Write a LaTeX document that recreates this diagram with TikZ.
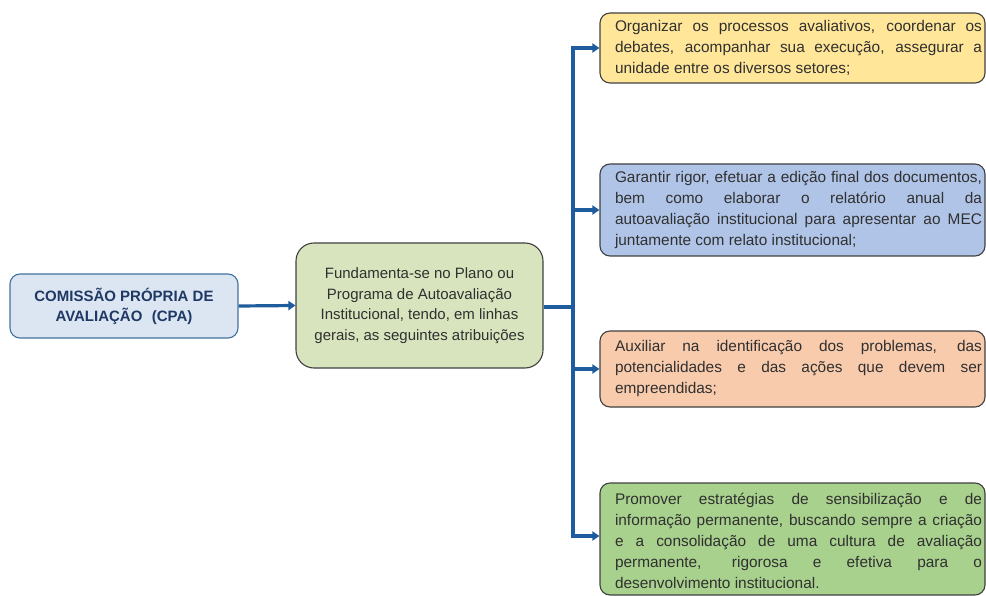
\documentclass[tikz,border=0pt]{standalone}
\usepackage{fontspec}
\setmainfont{Liberation Sans}
\usetikzlibrary{arrows.meta}
\definecolor{arrc}{HTML}{1F5C9E}
\definecolor{bord}{HTML}{404040}
\definecolor{txt}{HTML}{303030}
\definecolor{cpafill}{HTML}{DCE6F2}
\definecolor{cpadraw}{HTML}{41719C}
\definecolor{cpatext}{HTML}{1F3864}
\definecolor{midfill}{HTML}{D7E4BD}
\definecolor{yelfill}{HTML}{FFE699}
\definecolor{bluefill}{HTML}{B0C4E8}
\definecolor{orfill}{HTML}{F8CBAD}
\definecolor{grfill}{HTML}{A9D18E}
\hyphenpenalty=10000
\exhyphenpenalty=10000
\newcommand{\attrtext}[1]{\hskip12pt\parbox{367pt}{\fontsize{15.4}{21}\selectfont\tolerance=10000 #1}}
\tikzset{
  basebox/.style={draw=bord, line width=1.1pt, rounded corners=10pt, inner sep=0pt, text=txt,
    font=\fontsize{15}{21}\selectfont},
  attr/.style={basebox, minimum width=385pt},
  conn/.style={draw=arrc, line width=3.2pt},
  arr/.style={conn, -{Triangle[length=7pt,width=9pt]}}
}
\begin{document}
\begin{tikzpicture}[x=1pt,y=-1pt]
\useasboundingbox (0,0) rectangle (986,596);

\node[basebox, draw=cpadraw, fill=cpafill, text=cpatext, minimum width=228pt, minimum height=64pt,
  align=center, font=\fontsize{15}{20}\selectfont\bfseries] (cpa) at (124,306)
  {COMISSÃO PRÓPRIA DE\\AVALIAÇÃO\hspace{0.35em} (CPA)};

\node[basebox, fill=midfill, rounded corners=18pt, minimum width=247pt, minimum height=125pt,
  align=center, font=\fontsize{15}{20.5}\selectfont] (mid) at (419.5,305.5)
  {Fundamenta-se no Plano ou\\Programa de Autoavaliação\\Institucional, tendo, em linhas\\gerais, as seguintes atribuições};

\node[attr, fill=yelfill, minimum height=70pt] (a1) at (792.5,48)
  {\attrtext{Organizar os processos avaliativos, coordenar os\linebreak debates, acompanhar sua execução, assegurar a\linebreak unidade entre os diversos setores;}};

\node[attr, fill=bluefill, minimum height=92pt] (a2) at (792.5,210)
  {\attrtext{Garantir rigor, efetuar a edição final dos documentos,\linebreak bem como elaborar o relatório anual da\linebreak autoavaliação institucional para apresentar ao MEC\linebreak juntamente com relato institucional;}};

\node[attr, fill=orfill, minimum height=76pt] (a3) at (792.5,369)
  {\attrtext{Auxiliar na identificação dos problemas, das\linebreak potencialidades e das ações que devem ser\linebreak empreendidas;}};

\node[attr, fill=grfill, minimum height=112pt] (a4) at (792.5,539)
  {\attrtext{\vspace*{3pt}Promover estratégias de sensibilização e de\linebreak informação permanente, buscando sempre a criação\linebreak e a consolidação de uma cultura de avaliação\linebreak permanente, rigorosa e efetiva para o\linebreak desenvolvimento institucional.}};

\coordinate (j) at (573,307);
\path[arr] (cpa.east) -- (mid.west);
\path[conn] (mid.east |- j) -- (j);
\path[arr] (j) |- (a1.west);
\path[arr] (j) |- (a2.west);
\path[arr] (j) |- (a3.west);
\path[arr] (j) |- ([yshift=3pt]a4.west);
\end{tikzpicture}
\end{document}
